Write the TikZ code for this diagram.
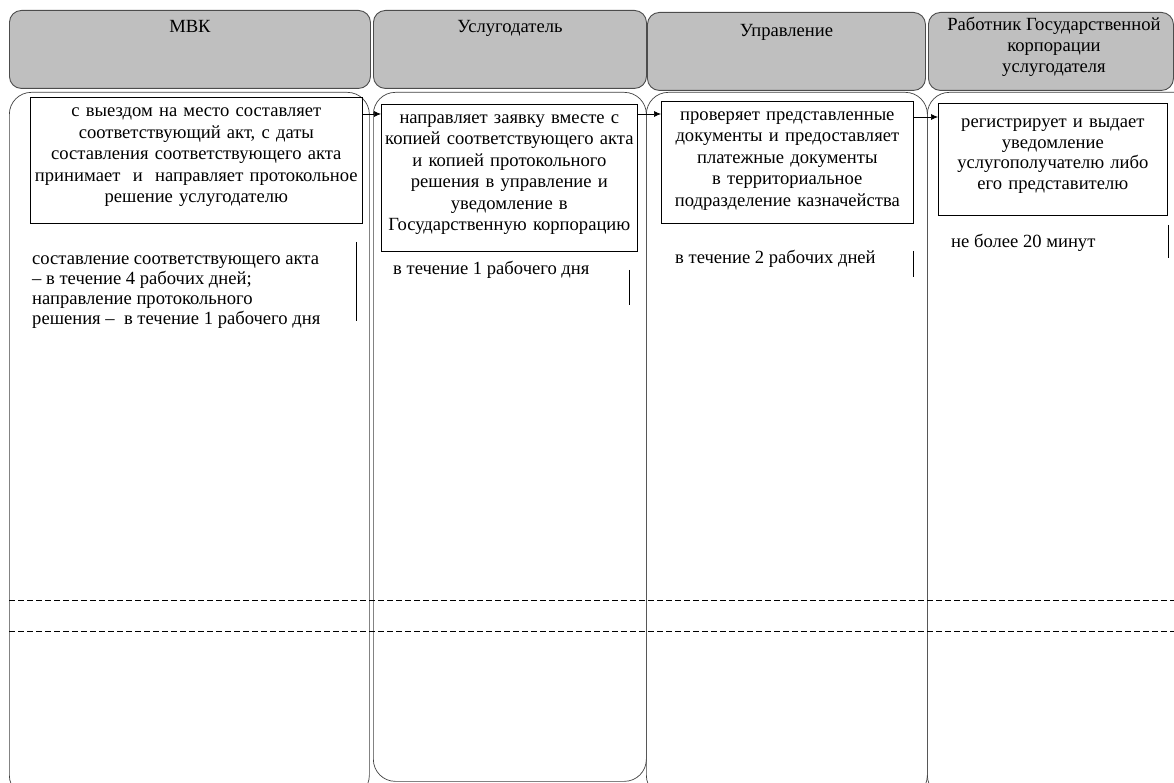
\documentclass[tikz,border=0pt]{standalone}
\usepackage{fontspec}
\setmainfont{Liberation Serif}
\usetikzlibrary{positioning,arrows.meta}

\begin{document}
\begin{tikzpicture}[x=1pt,y=-1pt,font=\fontsize{18.6}{21}\selectfont,>={Latex[length=7pt,width=6pt]}]
    \tikzset{head/.style={draw=black!70,fill=black!25,rounded corners=12pt,line width=0.9pt,inner sep=0pt,anchor=north west}}
    \tikzset{headtext/.style={anchor=north,align=center,inner sep=0pt,execute at begin node=\strut}}
    \tikzset{lane/.style={draw=black!75,rounded corners=22pt,line width=0.7pt,inner sep=0pt,anchor=north west}}
    \tikzset{act/.style={draw,rectangle,line width=0.7pt,align=center,inner xsep=0pt,inner ysep=4.5pt,anchor=north west,
        font=\fontsize{18.6}{21.5}\selectfont,execute at begin node=\strut,execute at end node={\strut\par\vspace*{#1}}}}
    \tikzset{term/.style={align=left,anchor=north west,inner sep=0pt,font=\fontsize{18.6}{20}\selectfont,execute at begin node=\strut}}
    \useasboundingbox (0,0) rectangle (1174,783);

    % lanes
    \node[lane,minimum width=360pt,minimum height=705pt] (lmvk) at (9,92) {};
    \node[lane,minimum width=273pt,minimum height=689pt] (lusl) at (373,92) {};
    \node[lane,minimum width=281pt,minimum height=705pt] (lupr) at (646,92) {};
    \node[lane,minimum width=270pt,minimum height=705pt] (lrab) at (927,92) {};

    % headers
    \node[head,minimum width=361pt,minimum height=78pt] (hmvk) at (9,10) {};
    \node[head,minimum width=273pt,minimum height=78pt] (husl) at (373,10) {};
    \node[head,minimum width=278pt,minimum height=78pt] (hupr) at (647,12) {};
    \node[head,minimum width=245pt,minimum height=78pt] (hrab) at (928,12) {};
    \node[headtext] (tmvk) at ([yshift=-7.3pt]hmvk.north) {МВК};
    \node[headtext] (tusl) at ([yshift=-7.3pt]husl.north) {Услугодатель};
    \node[headtext] (tupr) at ([yshift=-9.3pt]hupr.north) {Управление};
    \node[headtext] (trab) at ([xshift=3pt,yshift=-5.3pt]hrab.north) {Работник Государственной\\корпорации\\услугодателя};

    % steps
    \node[act=9.5pt,text width=332pt] (amvk) at (30,97) {с выездом на место составляет\\соответствующий акт, с даты\\составления соответствующего акта\\принимает\ \ и\ \ направляет протокольное\\решение услугодателю};
    \node[act=10pt,text width=256pt,inner ysep=4pt] (ausl) at (381,104) {направляет заявку вместе с\\копией соответствующего акта\\и копией протокольного\\решения в управление и\\уведомление в\\Государственную корпорацию};
    \node[act=6.5pt,text width=252pt,inner ysep=4pt] (aupr) at (661,101) {проверяет представленные\\документы и предоставляет\\платежные документы\\в территориальное\\подразделение казначейства};
    \node[act=10pt,text width=229pt,inner ysep=10pt,font=\fontsize{18.6}{20.5}\selectfont] (arab) at (938,103) {регистрирует и выдает\\уведомление\\услугополучателю либо\\его представителю};

    \draw[->,line width=0.7pt] ([yshift=-17pt]amvk.north east) -- ([yshift=-10pt]ausl.north west);
    \draw[->,line width=0.7pt] ([yshift=-10pt]ausl.north east) -- ([yshift=-13pt]aupr.north west);
    \draw[->,line width=0.7pt] ([yshift=-16pt]aupr.north east) -- ([yshift=-14pt]arab.north west);

    % terms
    \node[term] (dmvk) at (32,256) {составление соответствующего акта\\– в течение 4 рабочих дней;\\направление протокольного\\решения –\ \ в течение 1 рабочего дня};
    \node[term] (dusl) at (393,260) {в течение 1 рабочего дня};
    \node[term] (dupr) at (675,249) {в течение 2 рабочих дней};
    \node[term] (drab) at (951,233) {не более 20 минут};
    \draw[line width=0.7pt] (356,242) -- (356,321);
    \draw[line width=0.7pt] (629,270) -- (629,305);
    \draw[line width=0.7pt] (913,251) -- (913,277);
    \draw[line width=0.7pt] (1168,225) -- (1168,258);

    % dashed rows
    \draw[dashed,dash pattern=on 6pt off 3pt,line width=0.8pt] (lmvk.west |- 0,600) -- (1174,600);
    \draw[dashed,dash pattern=on 6pt off 3pt,line width=0.8pt] (lmvk.west |- 0,631) -- (1174,631);
\end{tikzpicture}
\end{document}
